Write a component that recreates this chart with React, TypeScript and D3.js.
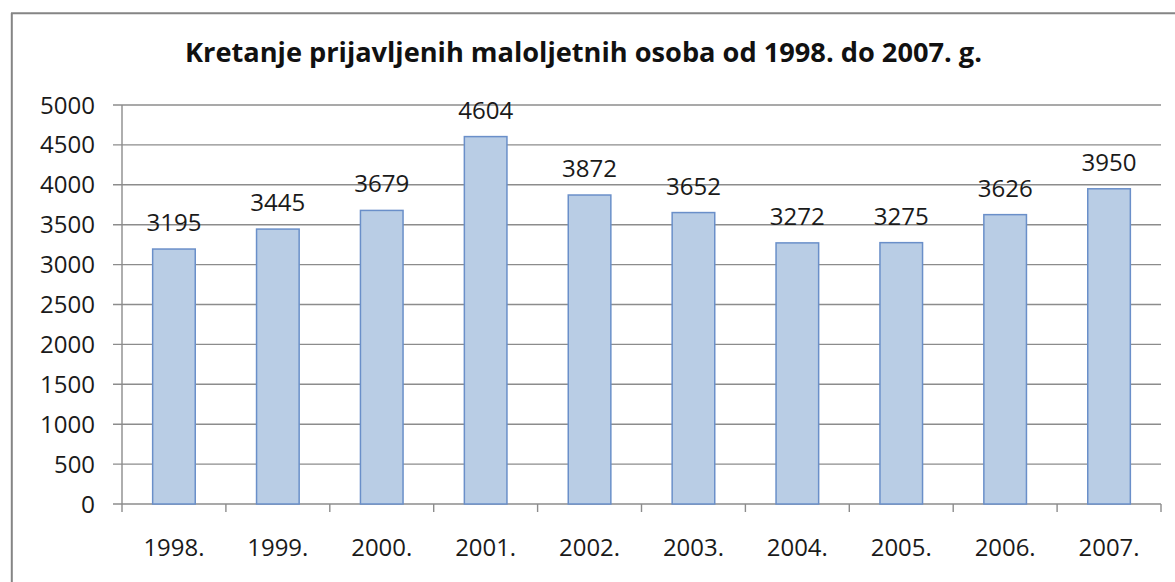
import React from "react";
import * as d3 from "d3";

const categories = ["1998.", "1999.", "2000.", "2001.", "2002.", "2003.", "2004.", "2005.", "2006.", "2007."];
const values = [3195, 3445, 3679, 4604, 3872, 3652, 3272, 3275, 3626, 3950];
const yTicks = [0, 500, 1000, 1500, 2000, 2500, 3000, 3500, 4000, 4500, 5000];
const title = "Kretanje prijavljenih maloljetnih osoba od 1998. do 2007. g.";

export default function App() {
  const W = 1175, H = 582;
  const left = 122, right = 1161, top = 105, bottom = 504;
  const x = d3.scaleBand<string>().domain(categories).range([left, right]).paddingInner(0.59).paddingOuter(0.295);
  const xc = d3.scaleBand<string>().domain(categories).range([left, right]);
  const y = d3.scaleLinear().domain([0, 5000]).range([bottom, top]);
  const font = "'Open Sans', 'Liberation Sans', sans-serif";
  const grid = "#8c8c8c";
  const fs = 23;
  return (
    <svg width={W} height={H} style={{ position: "absolute", left: 0, top: 0, background: "#fff" }} fontFamily={font}>
      <rect x={0} y={0} width={W} height={H} fill="#fff" />
      <line x1={11.8} y1={13} x2={11.8} y2={H} stroke="#858585" strokeWidth={2} />
      <line x1={11} y1={13.2} x2={W} y2={13.2} stroke="#858585" strokeWidth={2} />
      <text x={185} y={62} fontSize={26.5} fontWeight="bold" fill="#111" textLength={797} lengthAdjust="spacingAndGlyphs">{title}</text>
      {yTicks.map((t) => (
        <g key={t}>
          <line x1={113} x2={right} y1={y(t)} y2={y(t)} stroke={grid} strokeWidth={1.4} />
          <text x={95} y={y(t) + 8.5} textAnchor="end" fontSize={fs} fill="#1a1a1a" textLength={t >= 1000 ? 55 : t >= 500 ? 41 : 14} lengthAdjust="spacingAndGlyphs">{t}</text>
        </g>
      ))}
      <line x1={left} x2={left} y1={top} y2={bottom + 8} stroke={grid} strokeWidth={1.4} />
      {categories.map((c) => (
        <line key={"t" + c} x1={(xc(c) as number) + xc.bandwidth()} x2={(xc(c) as number) + xc.bandwidth()} y1={bottom} y2={bottom + 8} stroke={grid} strokeWidth={1.4} />
      ))}
      {categories.map((c, i) => (
        <g key={c}>
          <rect x={x(c)} y={y(values[i])} width={x.bandwidth()} height={bottom - y(values[i])} fill="#B9CDE5" stroke="#6A8FC9" strokeWidth={1.5} />
          <text x={(x(c) as number) + x.bandwidth() / 2} y={y(values[i]) - 18} textAnchor="middle" fontSize={fs} fill="#1a1a1a" textLength={55} lengthAdjust="spacingAndGlyphs">{values[i]}</text>
          <text x={(xc(c) as number) + xc.bandwidth() / 2} y={556} textAnchor="middle" fontSize={fs} fill="#1a1a1a" textLength={61} lengthAdjust="spacingAndGlyphs">{c}</text>
        </g>
      ))}
    </svg>
  );
}
